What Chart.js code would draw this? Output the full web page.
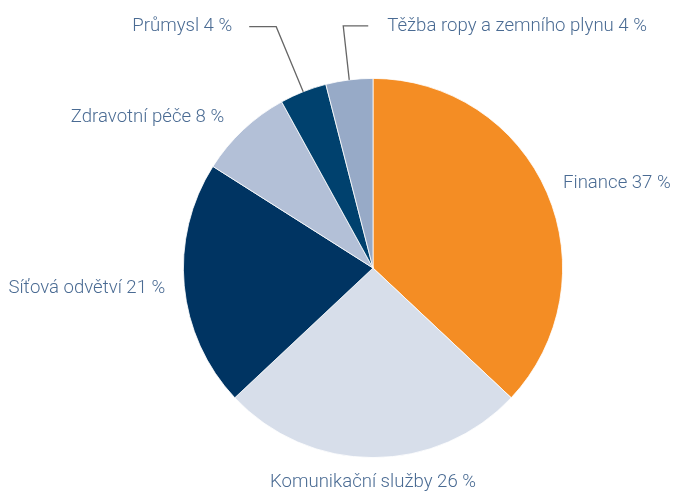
<!DOCTYPE html>
<html>
<head>
<meta charset="utf-8">
<script src="https://cdn.jsdelivr.net/npm/chart.js@4"></script>
<style>
  html, body { margin: 0; padding: 0; background: #fff; }
  #wrap { width: 674px; height: 491px; }
</style>
</head>
<body>
<div id="wrap"><canvas id="chart"></canvas></div>
<script>
// data
var sectors = ['Finance', 'Komunikační služby', 'Síťová odvětví', 'Zdravotní péče', 'Průmysl', 'Těžba ropy a zemního plynu'];
var shares = [37, 26, 21, 8, 4, 4];
var colors = ['#f48d24', '#d7deea', '#003462', '#b3c0d7', '#00416e', '#97aac7'];

// label placement per slice: align, dx, dy from slice edge, optional leader elbow
var labelAlign = ['left', 'center', 'right', 'right', 'right', 'left'];
var labelOffset = [[16, -9], [0, 25], [-19, 3], [-19, -12], [-27, -65], [-6, -54]];
var leaderRun = [0, 0, 0, 0, -27, 25];

var labelPlugin = {
    id: 'sliceLabels',
    afterDatasetsDraw: function(chart) {
        var ctx = chart.ctx;
        var meta = chart.getDatasetMeta(0);
        ctx.save();
        ctx.font = '300 18.6px Roboto';
        ctx.fillStyle = '#4a6b93';
        ctx.textBaseline = 'middle';
        meta.data.forEach(function(arc, i) {
            var mid = (arc.startAngle + arc.endAngle) / 2;
            var ex = arc.x + arc.outerRadius * Math.cos(mid);
            var ey = arc.y + arc.outerRadius * Math.sin(mid);
            var tx = ex + labelOffset[i][0];
            var ty = ey + labelOffset[i][1];
            if (leaderRun[i]) {
                // elbow line from slice edge
                ctx.strokeStyle = '#666';
                ctx.lineWidth = 1.3;
                ctx.beginPath();
                ctx.moveTo(ex, ey);
                ctx.lineTo(tx, ty);
                ctx.lineTo(tx + leaderRun[i], ty);
                ctx.stroke();
                tx = tx + leaderRun[i] + (leaderRun[i] < 0 ? -17 : 19);
            }
            ctx.textAlign = labelAlign[i];
            ctx.fillText(sectors[i] + ' ' + shares[i] + ' %', tx, ty);
        });
        ctx.restore();
    }
};

new Chart(document.getElementById('chart'), {
    type: 'pie',
    data: {
        labels: sectors,
        datasets: [{
            data: shares,
            backgroundColor: colors,
            borderColor: '#ffffff',
            borderWidth: 0.8
        }]
    },
    options: {
        responsive: true,
        maintainAspectRatio: false,
        animation: false,
        layout: { padding: { top: 78, bottom: 33, left: 183, right: 111 } },
        plugins: {
            legend: { display: false },
            tooltip: { enabled: false }
        }
    },
    plugins: [labelPlugin]
});
</script>
</body>
</html>
